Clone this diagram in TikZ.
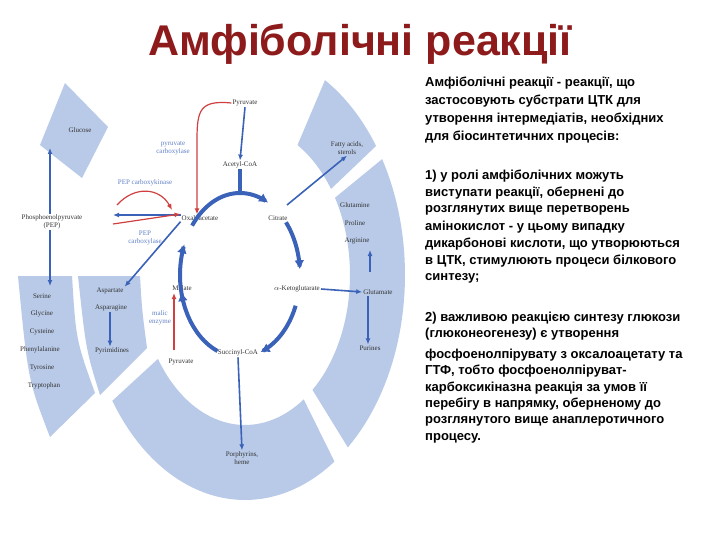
\documentclass[tikz,border=0pt]{standalone}
\usepackage{fontspec}
\setmainfont{Liberation Serif}
\newfontfamily\arial{Liberation Sans}
\usetikzlibrary{arrows.meta}
\definecolor{seg}{HTML}{B9CAE8}
\definecolor{cyc}{HTML}{3A62B8}
\definecolor{rd}{HTML}{D04040}
\definecolor{ttl}{HTML}{8E1B1B}
\tikzset{
 lab/.style={font=\fontsize{7}{8}\selectfont, text=black!80, inner sep=1pt, align=center},
 rlab/.style={lab, text=cyc!80},
 ba/.style={draw=cyc, line width=1.6pt, -{Latex[length=6pt,width=5pt]}},
 ra/.style={draw=rd, line width=1.2pt, -{Latex[length=6pt,width=5pt]}},
 cy/.style={draw=cyc, line width=4pt, -{Latex[length=9pt,width=10pt]}},
 tl/.style={font=\arial\bfseries\fontsize{13}{15}\selectfont, anchor=west, inner sep=0pt},
 sg/.style={fill=seg, draw=none}
}
\begin{document}
\begin{tikzpicture}[x=1pt,y=-1pt]
\useasboundingbox[fill=white] (0,0) rectangle (720,540);
% title
\node[font=\arial\bfseries\fontsize{43}{46}\selectfont, text=ttl] (title) at (360,44) {Амфіболічні реакції};
% segments
\fill[sg] plot[domain=-50:31,samples=40] ({245+160*cos(\x)},{275-225*sin(\x)}) -- plot[domain=31:-50,samples=40] ({245+105*cos(\x)},{275-150*sin(\x)}) -- cycle;
\fill[sg] plot[domain=35:60,samples=20] ({245+160*cos(\x)},{275-225*sin(\x)}) -- plot[domain=60:35,samples=20] ({245+105*cos(\x)},{275-150*sin(\x)}) -- cycle;
\fill[sg] plot[domain=-56:-146,samples=40] ({245+160*cos(\x)},{275-225*sin(\x)}) -- plot[domain=-146:-56,samples=40] ({245+105*cos(\x)},{275-150*sin(\x)}) -- cycle;
\fill[sg] (78,276) -- (140,276) .. controls (142,310) .. (147,348) -- (100,395) .. controls (86,350) .. (78,276) -- cycle;
\fill[sg] (18,276) -- (72,276) .. controls (76,340) .. (95,393) -- (50,437) .. controls (28,380) .. (18,276) -- cycle;
\fill[sg] (65,83) -- (108,127) -- (82,178) -- (40,145) -- cycle;
% labels
\node[lab] (glc) at (80,130) {Glucose};
\node[lab] (pep) at (52,222) {Phosphoenolpyruvate\\(PEP)};
\node[lab] (pyr) at (245,103) {Pyruvate};
\node[lab] (acoa) at (240,165) {Acetyl-CoA};
\node[rlab] (pc) at (173,148) {pyruvate\\carboxylase};
\node[rlab] (pepck) at (145,183) {PEP carboxykinase};
\node[rlab] (pepc) at (145,238) {PEP\\carboxylase};
\node[lab] (oaa) at (200,218) {Oxaloacetate};
\node[lab] (cit) at (278,218) {Citrate};
\node[lab] (fa) at (347,148) {Fatty acids,\\sterols};
\node[lab] (gln) at (355,205) {Glutamine};
\node[lab] (pro) at (355,223) {Proline};
\node[lab] (arg) at (357,241) {Arginine};
\node[lab] (glu) at (378,292) {Glutamate};
\node[lab] (pur) at (370,348) {Purines};
\node[lab] (akg) at (297,289) {$\alpha$-Ketoglutarate};
\node[lab] (scoa) at (238,353) {Succinyl-CoA};
\node[lab] (mal) at (182,288) {Malate};
\node[rlab] (me) at (160,318) {malic\\enzyme};
\node[lab] (pyr2) at (181,362) {Pyruvate};
\node[lab] (asp) at (110,291) {Aspartate};
\node[lab] (asn) at (111,308) {Asparagine};
\node[lab] (pyrim) at (112,351) {Pyrimidines};
\node[lab] (ser) at (42,296) {Serine};
\node[lab] (gly) at (42,314) {Glycine};
\node[lab] (cys) at (42,332) {Cysteine};
\node[lab] (phe) at (40,350) {Phenylalanine};
\node[lab] (tyr) at (42,368) {Tyrosine};
\node[lab] (trp) at (44,386) {Tryptophan};
\node[lab] (por) at (242,458) {Porphyrins,\\heme};
\coordinate (glcb) at (50,148);
\coordinate (serb) at (50,286);
\coordinate (argb) at (370,250);
\coordinate (argt) at (370,272);
% cycle
\draw[cy] plot[domain=143:62,samples=30] ({240+60*cos(\x)},{275-82*sin(\x)});
\draw[cy] plot[domain=40:4,samples=20] ({240+60*cos(\x)},{275-82*sin(\x)});
\draw[cy] plot[domain=-22:-70,samples=20] ({240+60*cos(\x)},{275-82*sin(\x)});
\draw[cy] plot[domain=-112:-168,samples=20] ({240+60*cos(\x)},{275-82*sin(\x)});
\draw[cy] plot[domain=195:158,samples=20] ({240+60*cos(\x)},{275-82*sin(\x)});
\draw[draw=cyc, line width=4pt] (acoa.south) -- (240,193);
% arrows
\draw[ba] (pyr.south) -- (acoa.north);
\draw[ra] (pyr.west) .. controls (200,100) and (197,110) .. (197,140) -- (oaa.north -| 197,0);
\draw[ra] (117,205) .. controls (135,185) and (160,188) .. (172,210);
\draw[ba] (oaa.west) ++(0,-3) -- (113,215);
\draw[ra] (113,224) -- ([yshift=4pt]oaa.west);
\draw[ba] (pep.north -| glcb) -- (glcb);
\draw[ba] (pep.south -| serb) -- (serb);
\draw[ba] (oaa.south west) -- (asp.north east);
\draw[ba] (asn.south -| 110,0) -- (pyrim.north -| 110,0);
\draw[ba] (287,205) -- (fa.south);
\draw[ba] (akg.east) -- (glu.west);
\draw[ba] (glu.south -| 368,0) -- (pur.north -| 368,0);
\draw[ba] (argt) -- (argb);
\draw[ba] (scoa.south) -- (por.north);
\draw[ra] (pyr2.north -| 174,0) ++(0,-8) -- (174,293);
% right text
\node[tl] (t1) at (425,83) {Амфіболічні реакції - реакції, що};
\node[tl] (t2) at (425,101) {застосовують субстрати ЦТК для};
\node[tl] (t3) at (425,119) {утворення інтермедіатів, необхідних};
\node[tl] (t4) at (425,137) {для біосинтетичних процесів:};
\node[tl] (t5) at (425,176) {1) у ролі амфіболічних можуть};
\node[tl] (t6) at (425,193) {виступати реакції, обернені до};
\node[tl] (t7) at (425,210) {розглянутих вище перетворень};
\node[tl] (t8) at (425,227) {амінокислот - у цьому випадку};
\node[tl] (t9) at (425,244) {дикарбонові кислоти, що утворюються};
\node[tl] (t10) at (425,261) {в ЦТК, стимулюють процеси білкового};
\node[tl] (t11) at (425,278) {синтезу;};
\node[tl] (t12) at (425,318) {2) важливою реакцією синтезу глюкози};
\node[tl] (t13) at (425,334) {(глюконеогенезу) є утворення};
\node[tl] (t14) at (425,355) {фосфоенолпірувату з оксалоацетату та};
\node[tl] (t15) at (425,371) {ГТФ, тобто фосфоенолпіруват-};
\node[tl] (t16) at (425,388) {карбоксикіназна реакція за умов її};
\node[tl] (t17) at (425,404) {перебігу в напрямку, оберненому до};
\node[tl] (t18) at (425,421) {розглянутого вище анаплеротичного};
\node[tl] (t19) at (425,438) {процесу.};
\end{tikzpicture}
\end{document}
